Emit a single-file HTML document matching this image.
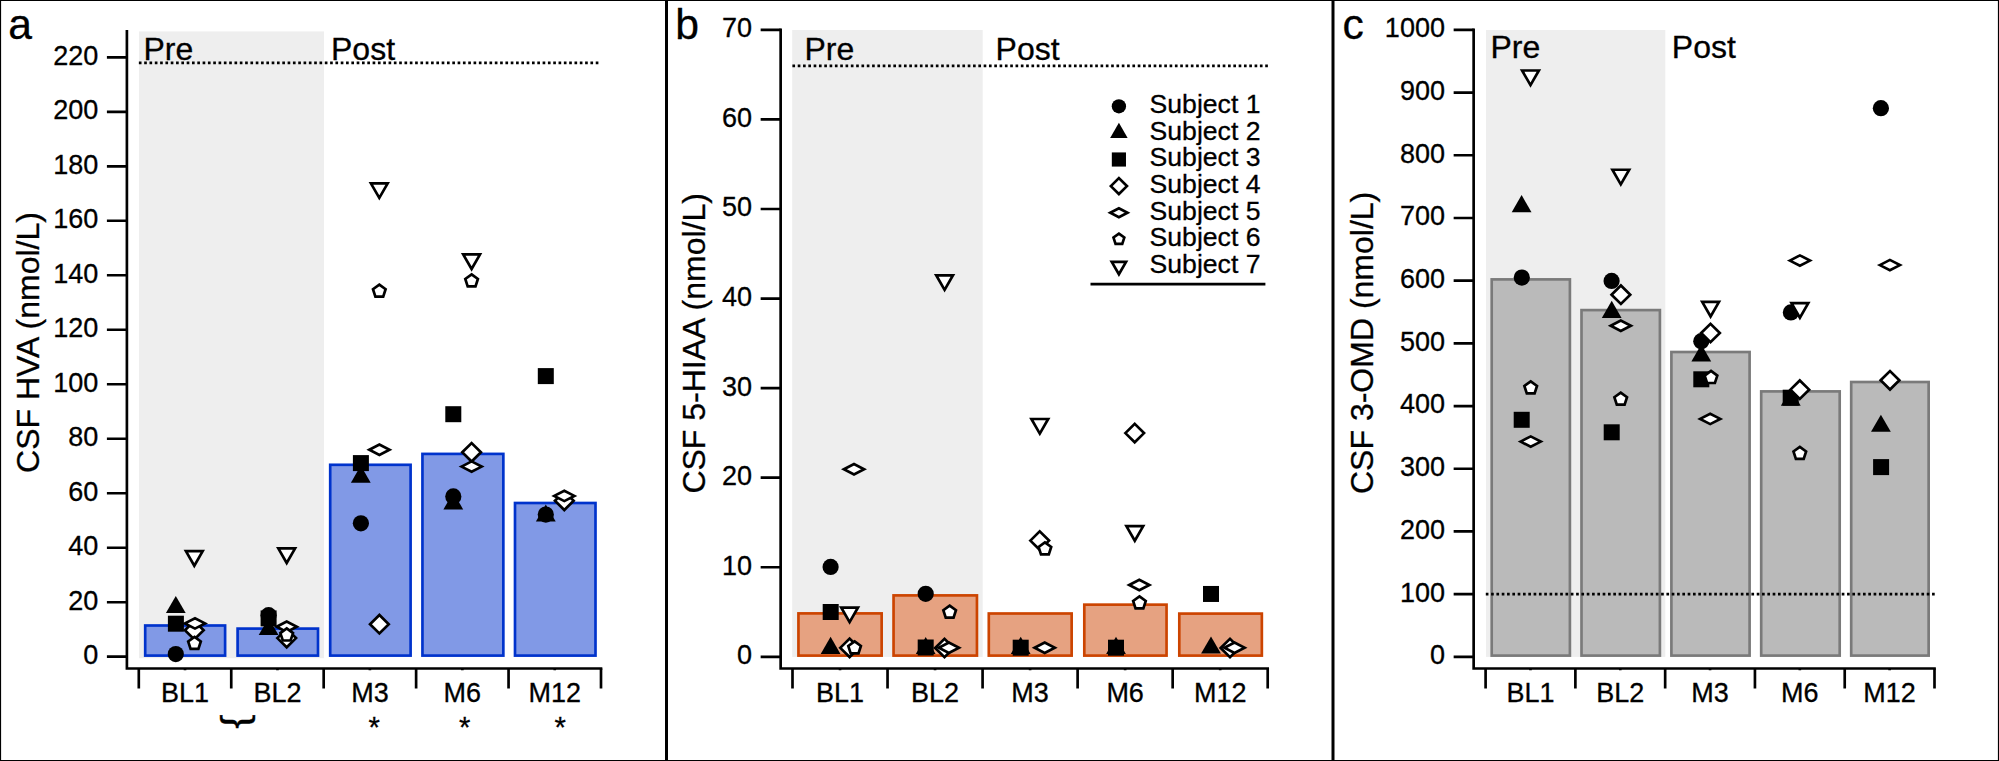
<!DOCTYPE html>
<html lang="en"><head><meta charset="utf-8"><title>CSF metabolites</title>
<style>html,body{margin:0;padding:0;background:#fff}svg{display:block}text{stroke:#000;stroke-width:0.3px}</style></head>
<body>
<svg width="1999" height="761" viewBox="0 0 1999 761" font-family='"Liberation Sans", sans-serif' fill="#000">
<rect x="0" y="0" width="1999" height="761" fill="#fff"/>
<rect x="139" y="31.4" width="185" height="626.8" fill="#eeeeee"/>
<rect x="145.2" y="625.5" width="79.9" height="30.1" fill="#8199e6" stroke="#0033cc" stroke-width="2.67"/>
<rect x="237.6" y="628.6" width="80.4" height="27" fill="#8199e6" stroke="#0033cc" stroke-width="2.67"/>
<rect x="330.2" y="464.8" width="80.4" height="190.8" fill="#8199e6" stroke="#0033cc" stroke-width="2.67"/>
<rect x="422.45" y="453.9" width="80.9" height="201.7" fill="#8199e6" stroke="#0033cc" stroke-width="2.67"/>
<rect x="515" y="503" width="80.5" height="152.6" fill="#8199e6" stroke="#0033cc" stroke-width="2.67"/>
<circle cx="175.8" cy="654.1" r="8.1" fill="#000"/>
<circle cx="268.6" cy="615.2" r="8.1" fill="#000"/>
<circle cx="360.9" cy="523.3" r="8.1" fill="#000"/>
<circle cx="453.3" cy="496.4" r="8.1" fill="#000"/>
<circle cx="545.8" cy="514.6" r="8.1" fill="#000"/>
<path d="M165.9 613.1L185.7 613.1L175.8 595.9Z" fill="#000"/>
<path d="M258.7 635.1L278.5 635.1L268.6 617.9Z" fill="#000"/>
<path d="M350.9 482.8L370.7 482.8L360.8 465.6Z" fill="#000"/>
<path d="M443.4 509.5L463.2 509.5L453.3 492.3Z" fill="#000"/>
<path d="M535.9 521.6L555.7 521.6L545.8 504.4Z" fill="#000"/>
<rect x="167.9" y="615.7" width="16" height="16" fill="#000"/>
<rect x="260.6" y="610.4" width="16" height="16" fill="#000"/>
<rect x="352.9" y="455.1" width="16" height="16" fill="#000"/>
<rect x="445.3" y="406.2" width="16" height="16" fill="#000"/>
<rect x="537.8" y="368.1" width="16" height="16" fill="#000"/>
<path d="M184.95 630.2L194.3 620.98L203.65 630.2L194.3 639.42Z" fill="#fff" stroke="#000" stroke-width="2.67" stroke-linejoin="miter" stroke-miterlimit="10"/>
<path d="M277.35 638.1L286.7 628.88L296.05 638.1L286.7 647.32Z" fill="#fff" stroke="#000" stroke-width="2.67" stroke-linejoin="miter" stroke-miterlimit="10"/>
<path d="M370.05 624.2L379.4 614.98L388.75 624.2L379.4 633.42Z" fill="#fff" stroke="#000" stroke-width="2.67" stroke-linejoin="miter" stroke-miterlimit="10"/>
<path d="M462.25 452.3L471.6 443.08L480.95 452.3L471.6 461.52Z" fill="#fff" stroke="#000" stroke-width="2.67" stroke-linejoin="miter" stroke-miterlimit="10"/>
<path d="M554.95 500.8L564.3 491.58L573.65 500.8L564.3 510.02Z" fill="#fff" stroke="#000" stroke-width="2.67" stroke-linejoin="miter" stroke-miterlimit="10"/>
<path d="M184.91 623.4L195 618.2L205.09 623.4L195 628.6Z" fill="#fff" stroke="#000" stroke-width="2.67" stroke-linejoin="miter" stroke-miterlimit="10"/>
<path d="M276.61 626.7L286.7 621.5L296.79 626.7L286.7 631.9Z" fill="#fff" stroke="#000" stroke-width="2.67" stroke-linejoin="miter" stroke-miterlimit="10"/>
<path d="M369.31 449.8L379.4 444.6L389.49 449.8L379.4 455Z" fill="#fff" stroke="#000" stroke-width="2.67" stroke-linejoin="miter" stroke-miterlimit="10"/>
<path d="M461.51 466.6L471.6 461.4L481.69 466.6L471.6 471.8Z" fill="#fff" stroke="#000" stroke-width="2.67" stroke-linejoin="miter" stroke-miterlimit="10"/>
<path d="M554.21 495.9L564.3 490.7L574.39 495.9L564.3 501.1Z" fill="#fff" stroke="#000" stroke-width="2.67" stroke-linejoin="miter" stroke-miterlimit="10"/>
<path d="M194.5 636.85L200.82 641.45L198.41 648.88L190.59 648.88L188.18 641.45Z" fill="#fff" stroke="#000" stroke-width="2.67" stroke-linejoin="miter" stroke-miterlimit="10"/>
<path d="M286.7 628.45L293.02 633.05L290.61 640.48L282.79 640.48L280.38 633.05Z" fill="#fff" stroke="#000" stroke-width="2.67" stroke-linejoin="miter" stroke-miterlimit="10"/>
<path d="M379.3 284.55L385.62 289.15L383.21 296.58L375.39 296.58L372.98 289.15Z" fill="#fff" stroke="#000" stroke-width="2.67" stroke-linejoin="miter" stroke-miterlimit="10"/>
<path d="M471.6 274.35L477.92 278.95L475.51 286.38L467.69 286.38L465.28 278.95Z" fill="#fff" stroke="#000" stroke-width="2.67" stroke-linejoin="miter" stroke-miterlimit="10"/>
<path d="M185.91 551.19L202.69 551.19L194.3 565.77Z" fill="#fff" stroke="#000" stroke-width="2.67" stroke-linejoin="miter" stroke-miterlimit="10"/>
<path d="M278.31 548.44L295.09 548.44L286.7 563.02Z" fill="#fff" stroke="#000" stroke-width="2.67" stroke-linejoin="miter" stroke-miterlimit="10"/>
<path d="M370.91 183.34L387.69 183.34L379.3 197.92Z" fill="#fff" stroke="#000" stroke-width="2.67" stroke-linejoin="miter" stroke-miterlimit="10"/>
<path d="M463.21 254.44L479.99 254.44L471.6 269.02Z" fill="#fff" stroke="#000" stroke-width="2.67" stroke-linejoin="miter" stroke-miterlimit="10"/>
<path d="M138.86 62.9H598.7" stroke="#000" stroke-width="2.67" stroke-dasharray="2.66 2.6525" fill="none"/>
<path d="M126.9 30.1V668.5H602.34" stroke="#000" stroke-width="2.67" fill="none" stroke-linejoin="miter"/>
<path d="M106.9 656.7H126.9M106.9 602.21H126.9M106.9 547.72H126.9M106.9 493.23H126.9M106.9 438.74H126.9M106.9 384.25H126.9M106.9 329.76H126.9M106.9 275.27H126.9M106.9 220.78H126.9M106.9 166.29H126.9M106.9 111.8H126.9M106.9 57.31H126.9M138.8 668.5V688.6M231.24 668.5V688.6M323.68 668.5V688.6M416.12 668.5V688.6M508.56 668.5V688.6M601 668.5V688.6" stroke="#000" stroke-width="2.67" fill="none"/>
<path d="M185.02 668.5V670.19M277.46 668.5V670.19M369.9 668.5V670.19M462.34 668.5V670.19M554.78 668.5V670.19" stroke="#000" stroke-width="2.67" fill="none"/>
<g font-size="27" text-anchor="end">
<text x="98.2" y="664.1">0</text>
<text x="98.2" y="609.61">20</text>
<text x="98.2" y="555.12">40</text>
<text x="98.2" y="500.63">60</text>
<text x="98.2" y="446.14">80</text>
<text x="98.2" y="391.65">100</text>
<text x="98.2" y="337.16">120</text>
<text x="98.2" y="282.67">140</text>
<text x="98.2" y="228.18">160</text>
<text x="98.2" y="173.69">180</text>
<text x="98.2" y="119.2">200</text>
<text x="98.2" y="64.71">220</text>
</g>
<g font-size="27" text-anchor="middle">
<text x="185.02" y="701.5">BL1</text>
<text x="277.46" y="701.5">BL2</text>
<text x="369.9" y="701.5">M3</text>
<text x="462.34" y="701.5">M6</text>
<text x="554.78" y="701.5">M12</text>
</g>
<text font-size="32" transform="translate(38.8 472.9) rotate(-90)">CSF HVA (nmol/L)</text>
<text font-size="32" x="143.4" y="59.8">Pre</text>
<text font-size="32" x="331" y="59.8">Post</text>
<text font-size="42.67" x="8.3" y="39.4">a</text>
<rect x="792.2" y="30" width="190.5" height="626.9" fill="#eeeeee"/>
<rect x="798.45" y="613.4" width="83.2" height="42.2" fill="#e6a281" stroke="#cc4400" stroke-width="2.67"/>
<rect x="893.55" y="595.4" width="83.4" height="60.2" fill="#e6a281" stroke="#cc4400" stroke-width="2.67"/>
<rect x="988.8" y="613.5" width="82.85" height="42.1" fill="#e6a281" stroke="#cc4400" stroke-width="2.67"/>
<rect x="1084.3" y="604.65" width="82.25" height="50.95" fill="#e6a281" stroke="#cc4400" stroke-width="2.67"/>
<rect x="1179.3" y="613.6" width="82.55" height="42" fill="#e6a281" stroke="#cc4400" stroke-width="2.67"/>
<circle cx="830.6" cy="566.9" r="8.1" fill="#000"/>
<circle cx="925.7" cy="593.85" r="8.1" fill="#000"/>
<path d="M820.7 653.9L840.5 653.9L830.6 636.7Z" fill="#000"/>
<path d="M915.8 654.1L935.6 654.1L925.7 636.9Z" fill="#000"/>
<path d="M1010.8 653.9L1030.6 653.9L1020.7 636.7Z" fill="#000"/>
<path d="M1106.1 654L1125.9 654L1116 636.8Z" fill="#000"/>
<path d="M1201.1 653.6L1220.9 653.6L1211 636.4Z" fill="#000"/>
<rect x="822.7" y="604" width="16" height="16" fill="#000"/>
<rect x="917.7" y="639.5" width="16" height="16" fill="#000"/>
<rect x="1012.7" y="639.7" width="16" height="16" fill="#000"/>
<rect x="1108" y="639.7" width="16" height="16" fill="#000"/>
<rect x="1203" y="585.96" width="16" height="16" fill="#000"/>
<path d="M840.25 647.85L849.6 638.63L858.95 647.85L849.6 657.07Z" fill="#fff" stroke="#000" stroke-width="2.67" stroke-linejoin="miter" stroke-miterlimit="10"/>
<path d="M935.15 648L944.5 638.78L953.85 648L944.5 657.22Z" fill="#fff" stroke="#000" stroke-width="2.67" stroke-linejoin="miter" stroke-miterlimit="10"/>
<path d="M1030.35 540.6L1039.7 531.38L1049.05 540.6L1039.7 549.82Z" fill="#fff" stroke="#000" stroke-width="2.67" stroke-linejoin="miter" stroke-miterlimit="10"/>
<path d="M1125.35 433.1L1134.7 423.88L1144.05 433.1L1134.7 442.32Z" fill="#fff" stroke="#000" stroke-width="2.67" stroke-linejoin="miter" stroke-miterlimit="10"/>
<path d="M1220.65 648L1230 638.78L1239.35 648L1230 657.22Z" fill="#fff" stroke="#000" stroke-width="2.67" stroke-linejoin="miter" stroke-miterlimit="10"/>
<path d="M843.91 469.3L854 464.1L864.09 469.3L854 474.5Z" fill="#fff" stroke="#000" stroke-width="2.67" stroke-linejoin="miter" stroke-miterlimit="10"/>
<path d="M938.81 647.8L948.9 642.6L958.99 647.8L948.9 653Z" fill="#fff" stroke="#000" stroke-width="2.67" stroke-linejoin="miter" stroke-miterlimit="10"/>
<path d="M1034.61 647.7L1044.7 642.5L1054.79 647.7L1044.7 652.9Z" fill="#fff" stroke="#000" stroke-width="2.67" stroke-linejoin="miter" stroke-miterlimit="10"/>
<path d="M1129.21 585L1139.3 579.8L1149.39 585L1139.3 590.2Z" fill="#fff" stroke="#000" stroke-width="2.67" stroke-linejoin="miter" stroke-miterlimit="10"/>
<path d="M1224.41 647.7L1234.5 642.5L1244.59 647.7L1234.5 652.9Z" fill="#fff" stroke="#000" stroke-width="2.67" stroke-linejoin="miter" stroke-miterlimit="10"/>
<path d="M854.6 641.35L860.92 645.95L858.51 653.38L850.69 653.38L848.28 645.95Z" fill="#fff" stroke="#000" stroke-width="2.67" stroke-linejoin="miter" stroke-miterlimit="10"/>
<path d="M949.65 605.55L955.97 610.15L953.56 617.58L945.74 617.58L943.33 610.15Z" fill="#fff" stroke="#000" stroke-width="2.67" stroke-linejoin="miter" stroke-miterlimit="10"/>
<path d="M1044.9 542.35L1051.22 546.95L1048.81 554.38L1040.99 554.38L1038.58 546.95Z" fill="#fff" stroke="#000" stroke-width="2.67" stroke-linejoin="miter" stroke-miterlimit="10"/>
<path d="M1139.45 596.35L1145.77 600.95L1143.36 608.38L1135.54 608.38L1133.13 600.95Z" fill="#fff" stroke="#000" stroke-width="2.67" stroke-linejoin="miter" stroke-miterlimit="10"/>
<path d="M841.21 607.54L857.99 607.54L849.6 622.12Z" fill="#fff" stroke="#000" stroke-width="2.67" stroke-linejoin="miter" stroke-miterlimit="10"/>
<path d="M936.21 275.29L952.99 275.29L944.6 289.88Z" fill="#fff" stroke="#000" stroke-width="2.67" stroke-linejoin="miter" stroke-miterlimit="10"/>
<path d="M1031.41 419.03L1048.19 419.03L1039.8 433.62Z" fill="#fff" stroke="#000" stroke-width="2.67" stroke-linejoin="miter" stroke-miterlimit="10"/>
<path d="M1126.41 526.13L1143.19 526.13L1134.8 540.72Z" fill="#fff" stroke="#000" stroke-width="2.67" stroke-linejoin="miter" stroke-miterlimit="10"/>
<path d="M792.4 65.8H1268.3" stroke="#000" stroke-width="2.67" stroke-dasharray="2.66 2.6525" fill="none"/>
<path d="M780.65 28.56V668.5H1269.04" stroke="#000" stroke-width="2.67" fill="none" stroke-linejoin="miter"/>
<path d="M760.65 656.8H780.65M760.65 567.24H780.65M760.65 477.68H780.65M760.65 388.12H780.65M760.65 298.56H780.65M760.65 209H780.65M760.65 119.44H780.65M760.65 29.88H780.65M792.5 668.5V688.6M887.54 668.5V688.6M982.58 668.5V688.6M1077.62 668.5V688.6M1172.66 668.5V688.6M1267.7 668.5V688.6" stroke="#000" stroke-width="2.67" fill="none"/>
<path d="M840.02 668.5V670.19M935.06 668.5V670.19M1030.1 668.5V670.19M1125.14 668.5V670.19M1220.18 668.5V670.19" stroke="#000" stroke-width="2.67" fill="none"/>
<g font-size="27" text-anchor="end">
<text x="751.95" y="664.2">0</text>
<text x="751.95" y="574.64">10</text>
<text x="751.95" y="485.08">20</text>
<text x="751.95" y="395.52">30</text>
<text x="751.95" y="305.96">40</text>
<text x="751.95" y="216.4">50</text>
<text x="751.95" y="126.84">60</text>
<text x="751.95" y="37.28">70</text>
</g>
<g font-size="27" text-anchor="middle">
<text x="840.02" y="701.5">BL1</text>
<text x="935.06" y="701.5">BL2</text>
<text x="1030.1" y="701.5">M3</text>
<text x="1125.14" y="701.5">M6</text>
<text x="1220.18" y="701.5">M12</text>
</g>
<text font-size="32" transform="translate(704.9 493.6) rotate(-90)">CSF 5-HIAA (nmol/L)</text>
<text font-size="32" x="804.5" y="59.8">Pre</text>
<text font-size="32" x="995.6" y="59.8">Post</text>
<text font-size="42.67" x="675.2" y="38.6">b</text>
<rect x="1486" y="30" width="179.3" height="626.9" fill="#eeeeee"/>
<rect x="1491.7" y="279.4" width="78.2" height="376.2" fill="#bababa" stroke="#7a7a7a" stroke-width="2.67"/>
<rect x="1581.5" y="310.1" width="78.4" height="345.5" fill="#bababa" stroke="#7a7a7a" stroke-width="2.67"/>
<rect x="1671.4" y="352" width="78.2" height="303.6" fill="#bababa" stroke="#7a7a7a" stroke-width="2.67"/>
<rect x="1761.2" y="391.4" width="78.5" height="264.2" fill="#bababa" stroke="#7a7a7a" stroke-width="2.67"/>
<rect x="1851.2" y="382" width="77.45" height="273.6" fill="#bababa" stroke="#7a7a7a" stroke-width="2.67"/>
<path d="M1485.8 594.1H1935" stroke="#000" stroke-width="2.67" stroke-dasharray="2.66 2.6525" fill="none"/>
<circle cx="1521.8" cy="277.6" r="8.1" fill="#000"/>
<circle cx="1611.6" cy="280.9" r="8.1" fill="#000"/>
<circle cx="1701.3" cy="341.2" r="8.1" fill="#000"/>
<circle cx="1790.9" cy="312.4" r="8.1" fill="#000"/>
<circle cx="1880.9" cy="108.2" r="8.1" fill="#000"/>
<path d="M1511.7 212.3L1531.5 212.3L1521.6 195.1Z" fill="#000"/>
<path d="M1601.8 317.9L1621.6 317.9L1611.7 300.7Z" fill="#000"/>
<path d="M1691.4 361.5L1711.2 361.5L1701.3 344.3Z" fill="#000"/>
<path d="M1780.9 405.7L1800.7 405.7L1790.8 388.5Z" fill="#000"/>
<path d="M1871 431.85L1890.8 431.85L1880.9 414.65Z" fill="#000"/>
<rect x="1513.7" y="411.8" width="16" height="16" fill="#000"/>
<rect x="1603.7" y="424.3" width="16" height="16" fill="#000"/>
<rect x="1693.3" y="371.3" width="16" height="16" fill="#000"/>
<rect x="1782.7" y="389.7" width="16" height="16" fill="#000"/>
<rect x="1873.1" y="459.1" width="16" height="16" fill="#000"/>
<path d="M1611.55 294.7L1620.9 285.48L1630.25 294.7L1620.9 303.92Z" fill="#fff" stroke="#000" stroke-width="2.67" stroke-linejoin="miter" stroke-miterlimit="10"/>
<path d="M1701.15 333L1710.5 323.78L1719.85 333L1710.5 342.22Z" fill="#fff" stroke="#000" stroke-width="2.67" stroke-linejoin="miter" stroke-miterlimit="10"/>
<path d="M1790.45 389.65L1799.8 380.43L1809.15 389.65L1799.8 398.87Z" fill="#fff" stroke="#000" stroke-width="2.67" stroke-linejoin="miter" stroke-miterlimit="10"/>
<path d="M1880.65 380.3L1890 371.08L1899.35 380.3L1890 389.52Z" fill="#fff" stroke="#000" stroke-width="2.67" stroke-linejoin="miter" stroke-miterlimit="10"/>
<path d="M1520.61 441.6L1530.7 436.4L1540.79 441.6L1530.7 446.8Z" fill="#fff" stroke="#000" stroke-width="2.67" stroke-linejoin="miter" stroke-miterlimit="10"/>
<path d="M1610.71 325.7L1620.8 320.5L1630.89 325.7L1620.8 330.9Z" fill="#fff" stroke="#000" stroke-width="2.67" stroke-linejoin="miter" stroke-miterlimit="10"/>
<path d="M1700.11 418.9L1710.2 413.7L1720.29 418.9L1710.2 424.1Z" fill="#fff" stroke="#000" stroke-width="2.67" stroke-linejoin="miter" stroke-miterlimit="10"/>
<path d="M1789.81 260.6L1799.9 255.4L1809.99 260.6L1799.9 265.8Z" fill="#fff" stroke="#000" stroke-width="2.67" stroke-linejoin="miter" stroke-miterlimit="10"/>
<path d="M1879.81 265.1L1889.9 259.9L1899.99 265.1L1889.9 270.3Z" fill="#fff" stroke="#000" stroke-width="2.67" stroke-linejoin="miter" stroke-miterlimit="10"/>
<path d="M1530.7 381.35L1537.02 385.95L1534.61 393.38L1526.79 393.38L1524.38 385.95Z" fill="#fff" stroke="#000" stroke-width="2.67" stroke-linejoin="miter" stroke-miterlimit="10"/>
<path d="M1620.7 392.55L1627.02 397.15L1624.61 404.58L1616.79 404.58L1614.38 397.15Z" fill="#fff" stroke="#000" stroke-width="2.67" stroke-linejoin="miter" stroke-miterlimit="10"/>
<path d="M1711 370.95L1717.32 375.55L1714.91 382.98L1707.09 382.98L1704.68 375.55Z" fill="#fff" stroke="#000" stroke-width="2.67" stroke-linejoin="miter" stroke-miterlimit="10"/>
<path d="M1799.8 446.85L1806.12 451.45L1803.71 458.88L1795.89 458.88L1793.48 451.45Z" fill="#fff" stroke="#000" stroke-width="2.67" stroke-linejoin="miter" stroke-miterlimit="10"/>
<path d="M1522.11 70.53L1538.89 70.53L1530.5 85.12Z" fill="#fff" stroke="#000" stroke-width="2.67" stroke-linejoin="miter" stroke-miterlimit="10"/>
<path d="M1612.41 169.74L1629.19 169.74L1620.8 184.32Z" fill="#fff" stroke="#000" stroke-width="2.67" stroke-linejoin="miter" stroke-miterlimit="10"/>
<path d="M1702.21 301.94L1718.99 301.94L1710.6 316.52Z" fill="#fff" stroke="#000" stroke-width="2.67" stroke-linejoin="miter" stroke-miterlimit="10"/>
<path d="M1791.51 303.13L1808.29 303.13L1799.9 317.72Z" fill="#fff" stroke="#000" stroke-width="2.67" stroke-linejoin="miter" stroke-miterlimit="10"/>
<path d="M1473.65 28.56V668.5H1935.84" stroke="#000" stroke-width="2.67" fill="none" stroke-linejoin="miter"/>
<path d="M1453.65 656.8H1473.65M1453.65 594.11H1473.65M1453.65 531.42H1473.65M1453.65 468.73H1473.65M1453.65 406.04H1473.65M1453.65 343.35H1473.65M1453.65 280.66H1473.65M1453.65 217.97H1473.65M1453.65 155.28H1473.65M1453.65 92.59H1473.65M1453.65 29.9H1473.65M1485.6 668.5V688.6M1575.38 668.5V688.6M1665.16 668.5V688.6M1754.94 668.5V688.6M1844.72 668.5V688.6M1934.5 668.5V688.6" stroke="#000" stroke-width="2.67" fill="none"/>
<path d="M1530.49 668.5V670.19M1620.27 668.5V670.19M1710.05 668.5V670.19M1799.83 668.5V670.19M1889.61 668.5V670.19" stroke="#000" stroke-width="2.67" fill="none"/>
<g font-size="27" text-anchor="end">
<text x="1444.95" y="664.2">0</text>
<text x="1444.95" y="601.51">100</text>
<text x="1444.95" y="538.82">200</text>
<text x="1444.95" y="476.13">300</text>
<text x="1444.95" y="413.44">400</text>
<text x="1444.95" y="350.75">500</text>
<text x="1444.95" y="288.06">600</text>
<text x="1444.95" y="225.37">700</text>
<text x="1444.95" y="162.68">800</text>
<text x="1444.95" y="99.99">900</text>
<text x="1444.95" y="37.3">1000</text>
</g>
<g font-size="27" text-anchor="middle">
<text x="1530.49" y="701.5">BL1</text>
<text x="1620.27" y="701.5">BL2</text>
<text x="1710.05" y="701.5">M3</text>
<text x="1799.83" y="701.5">M6</text>
<text x="1889.61" y="701.5">M12</text>
</g>
<text font-size="32" transform="translate(1372.6 494) rotate(-90)">CSF 3-OMD (nmol/L)</text>
<text font-size="32" x="1490.5" y="58.4">Pre</text>
<text font-size="32" x="1671.8" y="58.4">Post</text>
<text font-size="42.67" x="1342.5" y="38.6">c</text>
<text font-size="37.3" text-anchor="middle" transform="translate(227.7 721.6) rotate(90) scale(1.15 1)">}</text>
<text font-size="29.3" text-anchor="middle" x="374.3" y="737.3">*</text>
<text font-size="29.3" text-anchor="middle" x="464.7" y="737.3">*</text>
<text font-size="29.3" text-anchor="middle" x="560.3" y="737.3">*</text>
<circle cx="1118.9" cy="106.3" r="7.17" fill="#000"/>
<path d="M1110.14 137.95L1127.66 137.95L1118.9 122.73Z" fill="#000"/>
<rect x="1111.82" y="152.42" width="14.16" height="14.16" fill="#000"/>
<path d="M1110.84 186.1L1118.9 178.15L1126.96 186.1L1118.9 194.05Z" fill="#fff" stroke="#000" stroke-width="2.67" stroke-linejoin="miter" stroke-miterlimit="10"/>
<path d="M1110.31 212.7L1118.9 208.27L1127.49 212.7L1118.9 217.13Z" fill="#fff" stroke="#000" stroke-width="2.67" stroke-linejoin="miter" stroke-miterlimit="10"/>
<path d="M1118.9 233.6L1124.32 237.54L1122.25 243.91L1115.55 243.91L1113.48 237.54Z" fill="#fff" stroke="#000" stroke-width="2.67" stroke-linejoin="miter" stroke-miterlimit="10"/>
<path d="M1111.74 261.84L1126.06 261.84L1118.9 274.28Z" fill="#fff" stroke="#000" stroke-width="2.67" stroke-linejoin="miter" stroke-miterlimit="10"/>
<g font-size="26.6">
<text x="1149.6" y="113">Subject 1</text>
<text x="1149.6" y="139.65">Subject 2</text>
<text x="1149.6" y="166.3">Subject 3</text>
<text x="1149.6" y="192.95">Subject 4</text>
<text x="1149.6" y="219.6">Subject 5</text>
<text x="1149.6" y="246.25">Subject 6</text>
<text x="1149.6" y="272.9">Subject 7</text>
</g>
<path d="M1090.5 284.2H1265.4" stroke="#000" stroke-width="2.67"/>
<path d="M0.5 0.5H1998.5V760.5H0.5Z" fill="none" stroke="#000" stroke-width="1.2"/>
<path d="M666.5 0V761M1333 0V761" fill="none" stroke="#000" stroke-width="3"/>
</svg>
</body></html>
